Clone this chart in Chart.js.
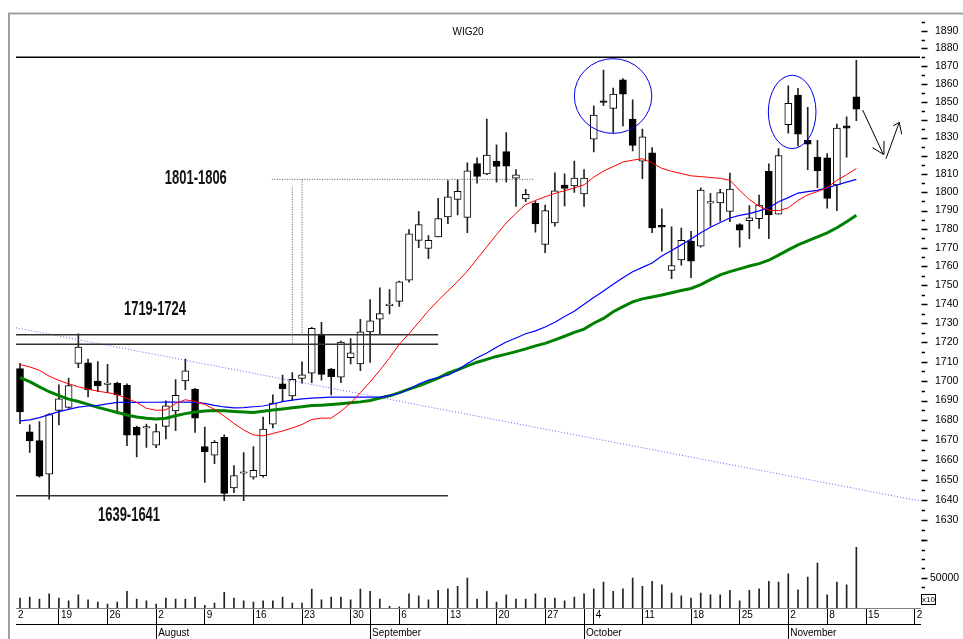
<!DOCTYPE html>
<html>
<head>
<meta charset="utf-8">
<title>WIG20</title>
<script src="https://cdn.jsdelivr.net/npm/chart.js@4.4.1/dist/chart.umd.min.js"></script>
<style>
  html, body { margin: 0; padding: 0; background: #fff; }
</style>
</head>
<body>
<canvas id="wigChart" width="963" height="639"></canvas>
<script>
// daily sessions 13 Jul - 12 Nov 2004, index 0 = 13 Jul
const opens = [1706.4,1674.0,1669.6,1652.8,1685.0,1686.5,1709.1,1709.4,1700.0,1698.2,
  1698.8,1697.8,1676.5,1676.0,1667.3,1676.8,1684.7,1700.0,1695.8,1666.6,
  1662.3,1671.3,1645.9,1653.2,1651.3,1652.0,1678.0,1698.6,1692.3,1701.3,
  1704.0,1724.3,1706.1,1702.0,1712.0,1708.8,1725.5,1732.1,1739.2,1741.5,
  1752.7,1773.9,1769.6,1775.8,1786.5,1796.1,1786.3,1815.7,1809.9,1817.0,
  1822.2,1807.7,1796.3,1794.0,1771.7,1783.3,1803.9,1803.4,1799.0,1829.1,
  1850.5,1846.2,1862.2,1840.3,1816.9,1821.6,1782.0,1757.9,1763.4,1773.5,
  1770.8,1794.0,1794.1,1789.5,1782.4,1784.5,1785.6,1811.4,1788.1,1837.1,
  1853.7,1828.5,1819.2,1818.8,1803.9,1836.5,1852.7];
const highs = [1709.1,1677.6,1679.3,1683.3,1698.0,1701.5,1724.4,1711.3,1710.0,1708.6,
  1699.5,1698.5,1677.0,1678.0,1678.0,1689.9,1700.8,1711.3,1696.3,1676.5,
  1669.6,1672.5,1657.1,1663.6,1666.6,1681.5,1692.9,1703.1,1704.4,1709.9,
  1727.8,1730.5,1706.6,1720.7,1722.0,1732.1,1742.4,1748.6,1747.7,1752.2,
  1779.7,1789.5,1776.5,1796.6,1806.3,1806.7,1816.0,1818.8,1840.3,1825.9,
  1832.8,1812.3,1801.5,1795.2,1793.0,1810.5,1810.0,1817.0,1812.3,1847.7,
  1867.8,1857.6,1863.0,1851.0,1834.7,1824.4,1790.9,1781.2,1780.6,1778.8,
  1802.4,1799.3,1801.5,1810.4,1782.9,1792.7,1798.4,1815.5,1823.9,1858.9,
  1857.4,1846.8,1828.5,1821.1,1837.5,1841.5,1873.2];
const lows = [1678.2,1663.7,1651.3,1640.3,1677.6,1686.0,1706.9,1691.8,1694.5,1694.0,
  1683.3,1667.1,1661.4,1666.2,1666.0,1670.5,1674.6,1695.5,1673.7,1648.6,
  1658.0,1639.6,1643.5,1639.6,1650.3,1651.3,1676.0,1689.6,1690.1,1698.9,
  1699.2,1700.5,1692.9,1699.2,1708.8,1705.3,1709.6,1724.6,1734.9,1738.8,
  1751.6,1770.0,1764.1,1775.8,1782.9,1787.7,1778.0,1804.9,1809.5,1805.4,
  1805.4,1792.2,1794.8,1778.3,1767.3,1781.5,1792.5,1799.8,1792.2,1822.0,
  1847.7,1832.8,1836.5,1822.6,1807.3,1778.0,1768.2,1753.5,1760.7,1754.0,
  1770.3,1781.5,1784.2,1784.0,1770.3,1774.9,1780.3,1774.9,1788.0,1832.4,
  1825.3,1812.3,1802.4,1791.3,1789.9,1819.2,1839.3];
const closes = [1684.2,1669.5,1651.8,1682.8,1690.8,1697.7,1717.6,1695.5,1697.5,1698.6,
  1692.9,1672.4,1672.4,1676.3,1674.2,1687.3,1692.6,1705.3,1681.0,1664.0,
  1668.8,1643.2,1652.1,1653.8,1654.7,1675.4,1688.7,1696.1,1700.9,1703.2,
  1727.3,1703.4,1702.2,1720.2,1714.5,1725.5,1731.2,1735.0,1739.6,1751.8,
  1777.4,1782.4,1773.9,1785.6,1797.5,1800.5,1811.7,1808.6,1820.3,1814.1,
  1814.2,1809.5,1798.8,1782.8,1790.0,1800.7,1802.1,1807.7,1807.7,1842.5,
  1849.5,1854.2,1854.2,1825.7,1830.4,1780.6,1781.0,1760.5,1774.0,1762.8,
  1801.1,1794.3,1799.8,1801.7,1779.4,1786.0,1793.0,1787.7,1820.1,1849.0,
  1831.9,1826.3,1811.7,1796.6,1835.2,1835.2,1845.8];
const volumes = [28500,29500,27400,33000,28500,25600,32000,26700,24200,22100,
  24200,35500,27400,25600,22100,28500,27400,27400,29500,20700,
  23200,34500,28500,25600,24200,25600,25600,29500,23200,23200,
  38000,26700,29500,29500,26700,38000,35500,27400,19700,19000,
  33000,30900,26700,36600,38300,40900,49700,27400,35500,24200,
  32000,27400,27400,33000,28500,28500,25600,29500,33000,38300,
  45400,35500,38300,49700,40900,46200,42600,33800,30900,28500,
  33800,32000,32000,36600,25600,36600,38300,46200,45400,54200,
  37300,50700,65600,32000,45400,42600,82600];
// moving averages
const maRed = [1708.5,1707.3,1705.5,1702.5,1700.3,1698.6,1697.0,1695.8,1694.8,1694.0,
  1693.1,1691.0,1689.0,1686.0,1685.0,1685.2,1688.5,1690.4,1689.5,1688.0,
  1685.5,1682.0,1678.3,1675.0,1672.5,1672.0,1673.2,1674.5,1676.0,1677.8,
  1680.3,1681.0,1681.0,1684.5,1688.7,1694.0,1699.5,1705.5,1712.0,1719.0,
  1724.5,1730.5,1736.5,1742.0,1747.0,1752.0,1757.5,1764.0,1770.5,1777.0,
  1783.3,1788.5,1793.3,1795.5,1797.5,1799.3,1800.8,1802.3,1804.0,1808.2,
  1811.5,1814.0,1816.5,1817.5,1818.3,1816.0,1813.0,1811.4,1810.2,1808.9,
  1808.5,1808.0,1807.5,1806.5,1801.0,1796.0,1792.3,1790.2,1789.9,1791.5,
  1795.5,1798.5,1800.3,1802.5,1806.5,1809.5,1812.9];
const maBlue = [1679.6,1680.1,1681.3,1682.8,1684.3,1685.5,1686.6,1687.2,1687.5,1688.3,
  1689.0,1689.0,1689.0,1689.1,1689.1,1689.2,1689.2,1689.2,1689.0,1688.5,
  1687.5,1686.7,1686.2,1686.4,1686.8,1687.2,1688.2,1689.4,1690.2,1690.8,
  1691.2,1691.5,1691.7,1691.7,1691.7,1691.7,1691.7,1691.7,1692.5,1693.7,
  1695.8,1698.5,1700.5,1701.8,1703.0,1705.5,1709.0,1712.0,1714.5,1717.5,
  1720.2,1722.3,1724.5,1726.0,1728.0,1730.5,1733.5,1736.3,1740.0,1743.5,
  1747.0,1750.5,1754.0,1757.2,1759.5,1761.8,1765.5,1768.5,1771.5,1774.6,
  1778.0,1781.0,1783.5,1786.0,1787.4,1788.3,1789.8,1791.5,1794.8,1797.0,
  1799.5,1800.3,1801.0,1802.3,1803.9,1805.5,1807.0];
const maGreen = [1701.8,1699.7,1697.0,1694.5,1692.5,1690.7,1689.5,1688.0,1686.5,1685.2,
  1683.9,1682.6,1681.6,1680.9,1680.6,1681.0,1682.2,1683.3,1684.1,1684.6,
  1684.9,1684.8,1684.4,1684.1,1683.9,1684.5,1685.1,1685.7,1686.3,1686.8,
  1687.4,1687.6,1687.9,1688.3,1688.8,1689.3,1690.0,1691.2,1692.4,1694.0,
  1695.8,1697.5,1699.5,1701.5,1704.0,1705.8,1707.8,1709.7,1711.2,1712.7,
  1713.9,1715.2,1716.6,1718.2,1719.5,1721.3,1723.2,1725.2,1726.9,1730.0,
  1732.5,1736.0,1738.7,1741.2,1742.8,1743.8,1744.8,1746.0,1747.2,1748.3,
  1750.3,1753.0,1755.5,1757.2,1758.7,1760.2,1761.5,1763.3,1766.0,1768.8,
  1771.5,1773.6,1775.8,1778.0,1780.7,1784.0,1787.4];

// axis ticks (session index) and their labels
const weekTicks = [-0.411, 4, 9, 14, 19, 24, 29, 34, 36, 39, 44, 49, 54, 58, 59, 64, 69, 74, 79, 83, 87, 92];
const weekLabels = ['2','19','26','2','9','16','23','30','','6','13','20','27','','4','11','18','25','2','8','15','2'];
const monthTicks = [14, 36, 58, 79];
const monthLabels = ['August', 'September', 'October', 'November'];
const priceTicks = [1620,1625,1630,1635,1640,1645,1650,1655,1660,1665,1670,1675,1680,1685,1690,1695,
  1700,1705,1710,1715,1720,1725,1730,1735,1740,1745,1750,1755,1760,1765,1770,1775,1780,1785,1790,1795,
  1800,1805,1810,1815,1820,1825,1830,1835,1840,1845,1850,1855,1860,1865,1870,1875,1880,1885,1890,1895];
const volumeTicks = [40000, 50000, 60000, 70000, 80000, 90000];

// drawn levels
const topLevel = 1875;
const zoneHigh = [1719, 1724];
const zoneLow = 1642;
const targetLevel = 1807;
const trendLine = [1727.6, 1639.4];

const xMin = -0.411, xMax = 92.545;
const priceMin = 1620, priceMax = 1900;
const volMin = 17870, volMax = 90000;

Chart.defaults.font.family = "'Liberation Sans', Arial, sans-serif";
Chart.defaults.color = '#000';

function seg(x0, y0, x1, y1) { return [{ x: x0, y: y0 }, { x: x1, y: y1 }]; }
function lineSet(data, color, width, dash, order) {
    return {
        type: 'line', data: data, yAxisID: 'y', borderColor: color, borderWidth: width,
        borderDash: dash || [], pointRadius: 0, fill: false, tension: 0, order: order
    };
}

const decorations = {
    id: 'decorations',
    beforeDraw(chart) {
        const ctx = chart.ctx;
        ctx.save();
        ctx.fillStyle = '#fff';
        ctx.fillRect(0, 0, chart.width, chart.height);
        ctx.strokeStyle = '#a0a0a0';
        ctx.lineWidth = 2;
        ctx.beginPath();
        ctx.moveTo(9, chart.height);
        ctx.lineTo(9, 13.5);
        ctx.lineTo(chart.width, 13.5);
        ctx.stroke();
        ctx.restore();
    },
    afterDatasetsDraw(chart) {
        const ctx = chart.ctx;
        const sx = chart.scales.x, sy = chart.scales.y;
        ctx.save();
        // title
        ctx.font = "10px 'Liberation Sans', Arial";
        ctx.fillStyle = '#000';
        ctx.textAlign = 'center';
        ctx.textBaseline = 'middle';
        ctx.fillText('WIG20', sx.getPixelForValue(46.07), sy.getPixelForValue(1889.4));
        // level labels
        const labels = [['1801-1806', 18.08, 1808.1], ['1719-1724', 13.88, 1738.1], ['1639-1641', 11.21, 1633]];
        labels.forEach(l => {
            ctx.save();
            ctx.font = "bold 21px 'Liberation Sans Narrow', 'Liberation Sans', Arial";
            const w = ctx.measureText(l[0]).width;
            ctx.translate(sx.getPixelForValue(l[1]), sy.getPixelForValue(l[2]) + 1);
            ctx.scale(62 / w, 1);
            ctx.fillStyle = '#111';
            ctx.textAlign = 'center';
            ctx.textBaseline = 'middle';
            ctx.fillText(l[0], 0, 0);
            ctx.restore();
        });
        // circled tops
        const rings = [[57.0, 64.96, 1832.3, 1874.2], [76.95, 81.85, 1823.9, 1864.8]];
        ctx.strokeStyle = '#0000ee';
        ctx.lineWidth = 1;
        rings.forEach(r => {
            const x0 = sx.getPixelForValue(r[0]), x1 = sx.getPixelForValue(r[1]);
            const y0 = sy.getPixelForValue(r[2]), y1 = sy.getPixelForValue(r[3]);
            ctx.beginPath();
            ctx.ellipse((x0 + x1) / 2, (y0 + y1) / 2, Math.abs(x1 - x0) / 2, Math.abs(y1 - y0) / 2, 0, 0, Math.PI * 2);
            ctx.stroke();
        });
        ctx.restore();
    },
    afterDraw(chart) {
        const ctx = chart.ctx;
        const right = chart.chartArea.right;
        ctx.save();
        ctx.strokeStyle = '#000';
        ctx.lineWidth = 1.5;
        const sy = chart.scales.y, sv = chart.scales.yv;
        sy.ticks.forEach(t => {
            const p = Math.round(sy.getPixelForValue(t.value)) + 0.5;
            const len = t.value % 10 === 0 ? 6 : 3.5;
            ctx.beginPath();
            ctx.moveTo(right + 1.5, p);
            ctx.lineTo(right + 1.5 + len, p);
            ctx.stroke();
        });
        sv.ticks.forEach(t => {
            const p = Math.round(sv.getPixelForValue(t.value)) + 0.5;
            const len = t.value === 50000 ? 6 : 3.5;
            ctx.beginPath();
            ctx.moveTo(right + 1.5, p);
            ctx.lineTo(right + 1.5 + len, p);
            ctx.stroke();
        });
        // volume multiplier box
        const by = Math.round(sv.getPixelForValue(27500));
        ctx.lineWidth = 1;
        ctx.strokeRect(right + 1.5, by - 4.5, 14, 10);
        ctx.font = "8px 'Liberation Sans', Arial";
        ctx.fillStyle = '#000';
        ctx.textAlign = 'center';
        ctx.textBaseline = 'middle';
        ctx.fillText('x10', right + 8.5, by + 0.5);
        ctx.restore();
    }
};

const idx = opens.map((v, i) => i);

new Chart(document.getElementById('wigChart'), {
    type: 'bar',
    data: {
        datasets: [
            lineSet(maRed.map((v, i) => ({ x: i, y: v })), '#ff0000', 1, null, 0),
            lineSet(maBlue.map((v, i) => ({ x: i, y: v })), '#0000ff', 1.2, null, 0),
            lineSet(maGreen.map((v, i) => ({ x: i, y: v })), '#008000', 3, null, 1),
            lineSet(seg(xMin, topLevel, xMax, topLevel), '#000', 1.5, null, 0),
            lineSet(seg(xMin, zoneHigh[0], 43.0, zoneHigh[0]), '#333', 1.5, null, 0),
            lineSet(seg(xMin, zoneHigh[1], 43.0, zoneHigh[1]), '#333', 1.5, null, 0),
            lineSet(seg(xMin, zoneLow, 44.0, zoneLow), '#333', 1.5, null, 0),
            lineSet(seg(xMin, trendLine[0], xMax, trendLine[1]), 'rgba(70,70,255,0.85)', 1, [1, 2], 0),
            lineSet(seg(25.9, targetLevel, 52.85, targetLevel), '#555', 1, [1, 1.5], 0),
            lineSet(seg(28.0, 1803, 28.0, 1719.5), '#555', 1, [1, 1.5], 0),
            lineSet(seg(29.0, targetLevel, 29.0, 1724.5), '#555', 1, [1, 1.5], 0),
            lineSet(seg(86.65, 1845.3, 88.77, 1820.7), '#000', 1, null, 0),
            lineSet([{ x: 87.68, y: 1824.4 }, { x: 88.77, y: 1820.7 }, { x: 88.84, y: 1828.1 }], '#000', 1, null, 0),
            lineSet(seg(89.05, 1818.3, 90.41, 1838.4), '#000', 1, null, 0),
            lineSet([{ x: 89.80, y: 1836.5 }, { x: 90.41, y: 1838.4 }, { x: 90.66, y: 1831.9 }], '#000', 1, null, 0),
            {
                label: 'body', yAxisID: 'y', order: 2, grouped: false,
                data: idx.map(i => ({ x: i, y: [opens[i], closes[i]] })),
                backgroundColor: c => closes[c.dataIndex] >= opens[c.dataIndex] ? '#fff' : '#000',
                borderColor: '#000', borderWidth: 1, borderSkipped: false,
                barThickness: 7, maxBarThickness: 7, minBarLength: 1.5
            },
            {
                label: 'wick', yAxisID: 'y', order: 3, grouped: false,
                data: idx.map(i => ({ x: i, y: [lows[i], highs[i]] })),
                backgroundColor: '#222', borderWidth: 0,
                barThickness: 1, maxBarThickness: 1
            },
            {
                label: 'volume', yAxisID: 'yv', order: 3, grouped: false, base: volMin,
                data: idx.map(i => ({ x: i, y: volumes[i] })),
                backgroundColor: '#222', borderWidth: 0,
                barThickness: 1, maxBarThickness: 1
            }
        ]
    },
    options: {
        responsive: false,
        animation: false,
        layout: { padding: { left: 16, top: 13.5, right: 0, bottom: 0 } },
        plugins: { legend: { display: false }, tooltip: { enabled: false } },
        scales: {
            x: {
                type: 'linear', position: 'bottom', min: xMin, max: xMax, offset: false,
                grid: {
                    drawOnChartArea: false, drawTicks: true, tickLength: 16, offset: false,
                    color: c => (c.tick && c.tick.value < 0) ? 'rgba(0,0,0,0)' : '#000'
                },
                border: { display: true, color: '#808080', width: 1 },
                ticks: {
                    autoSkip: false, maxRotation: 0, align: 'start', padding: -15, labelOffset: 2,
                    font: { size: 10 }, callback: (v, i) => weekLabels[i]
                },
                afterBuildTicks: s => { s.ticks = weekTicks.map(v => ({ value: v })); },
                afterFit: s => { s.height = 16; }
            },
            x2: {
                type: 'linear', position: 'bottom', min: xMin, max: xMax, offset: false,
                grid: { drawOnChartArea: false, drawTicks: true, tickLength: 15, offset: false, color: '#000' },
                border: { display: true, color: '#000', width: 1 },
                ticks: {
                    autoSkip: false, maxRotation: 0, align: 'start', padding: -12, labelOffset: 2,
                    font: { size: 10 }, callback: (v, i) => monthLabels[i]
                },
                afterBuildTicks: s => { s.ticks = monthTicks.map(v => ({ value: v })); },
                afterFit: s => { s.height = 15; }
            },
            y: {
                type: 'logarithmic', position: 'right', stack: 'right', stackWeight: 526.7,
                min: priceMin, max: priceMax,
                grid: { display: false, drawTicks: true, tickLength: 15 },
                border: { display: false },
                ticks: {
                    autoSkip: false, padding: 0, font: { size: 10.5 },
                    callback: v => (v % 10 === 0 && v >= 1630 && v <= 1890) ? String(v) : ''
                },
                afterBuildTicks: s => { s.ticks = priceTicks.map(v => ({ value: v })); },
                afterFit: s => { s.width = 43; }
            },
            yv: {
                type: 'linear', position: 'right', stack: 'right', stackWeight: 67.7,
                min: volMin, max: volMax,
                grid: { display: false, drawTicks: true, tickLength: 10 },
                border: { display: false },
                ticks: {
                    autoSkip: false, padding: 0, font: { size: 10.5 },
                    callback: v => v === 50000 ? '50000' : ''
                },
                afterBuildTicks: s => { s.ticks = volumeTicks.map(v => ({ value: v })); },
                afterFit: s => { s.width = 43; }
            }
        }
    },
    plugins: [decorations]
});
</script>
</body>
</html>
